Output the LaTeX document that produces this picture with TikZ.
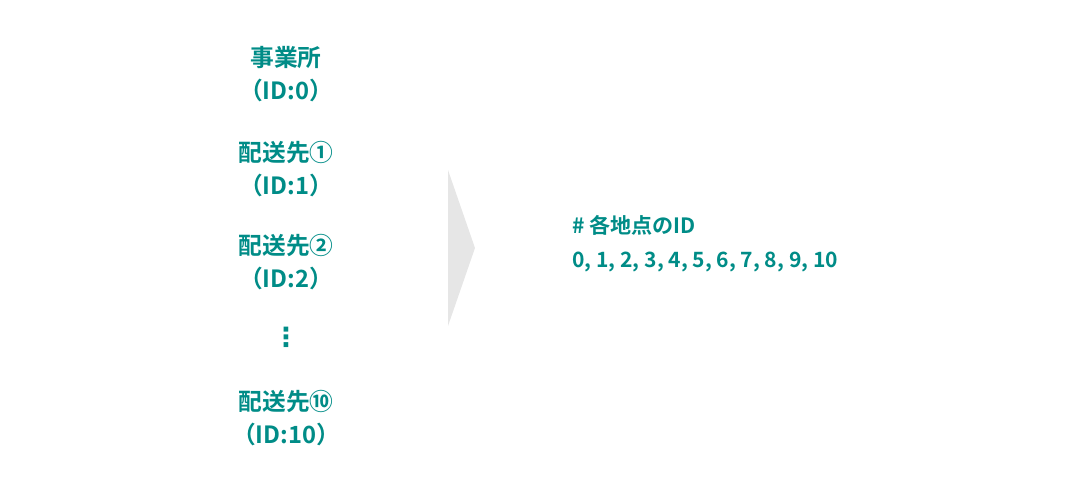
\documentclass[tikz,border=0pt]{standalone}
\usepackage{fontspec}
\setmainfont{Noto Sans CJK JP}[BoldFont={Noto Sans CJK JP Bold}]
\newfontfamily\symfont{DejaVu Sans}
\definecolor{teal}{RGB}{0,140,135}
\definecolor{arrowgray}{RGB}{230,230,230}

\begin{document}
\begin{tikzpicture}[x=0.02cm,y=-0.02cm,
    every node/.style={text=teal,font=\bfseries\fontsize{13.5pt}{16pt}\selectfont,align=center,inner sep=0pt},
    idlist/.style={font=\bfseries\fontsize{12pt}{14pt}\selectfont,anchor=west}]
    \useasboundingbox (0,0) rectangle (1075,495);

    \node (office) at (286, 58) {事業所};
    \node (officeid) at (286, 90) {（ID:0）};
    \node (dest1) at (286, 153) {配送先①};
    \node (dest1id) at (286, 185) {（ID:1）};
    \node (dest2) at (286, 246) {配送先②};
    \node (dest2id) at (286, 278) {（ID:2）};
    \node[font=\symfont\bfseries\fontsize{15pt}{16pt}\selectfont] (dots) at (286, 337) {⋮};
    \node (dest10) at (286, 402) {配送先⑩};
    \node (dest10id) at (286, 434) {（ID:10）};

    \fill[arrowgray] (448, 170) -- (475, 248) -- (448, 326) -- cycle;

    \node[idlist] (title) at (572, 225) {\# 各地点のID};
    \node[idlist] (ids) at (572, 262) {0, 1, 2, 3, 4, 5, 6, 7, 8, 9, 10};
  \end{tikzpicture}
\end{document}
